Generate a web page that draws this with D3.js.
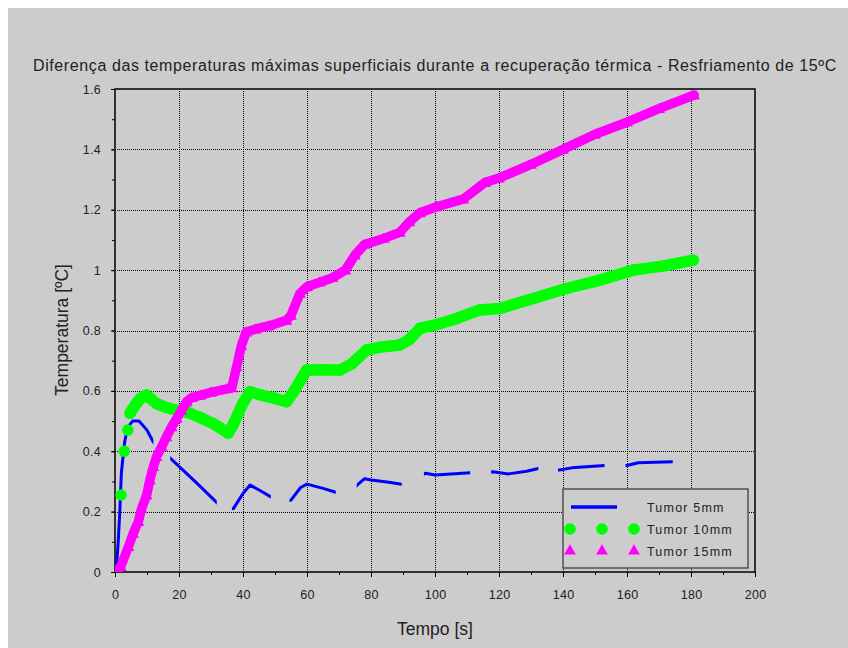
<!DOCTYPE html>
<html><head><meta charset="utf-8">
<script src="https://cdn.jsdelivr.net/npm/d3@7"></script>
<style>body{margin:0;background:#fff}text{font-family:"Liberation Sans",Arial,sans-serif}</style>
</head><body>
<svg id="c" width="848" height="648"></svg>
<script>
// ---- data ----
const title = "Diferença das temperaturas máximas superficiais durante a recuperação térmica - Resfriamento de 15ºC";
const xLabel = "Tempo [s]";
const yLabel = "Temperatura [ºC]";
const seriesNames = ["Tumor 5mm", "Tumor 10mm", "Tumor 15mm"];
const xTicks = [0,20,40,60,80,100,120,140,160,180,200];
const yTicks = [0,0.2,0.4,0.6,0.8,1,1.2,1.4,1.6];
const yTickLabels = ["0","0.2","0.4","0.6","0.8","1","1.2","1.4","1.6"];

const tBlue = [0,0.5,1,1.5,2,3,4,5.5,7.5,10,12,15,18,25,32,35,37,40,42.2,45.3,48.7,52,55,58,60,65,69,73,76,78,80,85,89.6,93,97,100,105,111,118,123,128.6,132.3,138.9,142.7,153,160,163.5,174.3,181];
const vBlue = [0,0.02,0.1,0.2,0.33,0.43,0.48,0.5,0.5,0.47,0.43,0.4,0.37,0.3,0.228,0.21,0.21,0.26,0.288,0.27,0.249,0.235,0.238,0.28,0.291,0.277,0.264,0.26,0.291,0.309,0.305,0.298,0.291,0.3,0.327,0.321,0.325,0.329,0.332,0.325,0.334,0.343,0.338,0.345,0.353,0.353,0.362,0.365,0.367];

const tGreen = [0,1.9,2.9,4,4.7,5.5,6.8,8,9.9,11,13,16,19.3,23.4,27,31,35.4,37,40,42.2,46,50,53.6,56,59.9,65,70.3,74,78.6,83,89,92,95.3,101.6,106.8,114,120.3,130.7,141,151.6,162,172,180.7];
const vGreen = [0,0.255,0.4,0.47,0.526,0.54,0.56,0.575,0.586,0.575,0.558,0.545,0.536,0.526,0.51,0.49,0.46,0.49,0.56,0.597,0.585,0.575,0.564,0.6,0.669,0.67,0.669,0.69,0.735,0.745,0.752,0.77,0.807,0.823,0.84,0.868,0.873,0.906,0.939,0.967,1.0,1.015,1.033];

const tMag = [0,1.8,4.2,5.7,7.3,8.3,9.9,10.9,12,13,14.6,16.1,17.7,19.3,20.8,22.4,24,26.6,30,35,36.5,38,39.5,41,44,48,53.6,55,57.8,60,64,68,72,75,78,84,89,92,95.3,100.5,108.8,115.6,120,130,140,150,160,170,181];
const vMag = [0,0.018,0.084,0.128,0.167,0.21,0.255,0.305,0.349,0.382,0.415,0.448,0.481,0.509,0.536,0.564,0.578,0.585,0.595,0.607,0.61,0.68,0.75,0.795,0.805,0.815,0.834,0.85,0.923,0.945,0.96,0.975,1.0,1.05,1.085,1.105,1.125,1.16,1.19,1.21,1.235,1.29,1.305,1.35,1.4,1.45,1.49,1.535,1.58];

// ---- style: visible dash intervals of the blue dashed line (time units) ----
const blueDashOn = [[0,12],[17.7,31.8],[37,48.7],[55,69],[76,89.6],[97,111],[118,132.3],[138.9,153],[160,174.3]];

// ---- layout ----
const W = 848, H = 648;
const L = 115, R = 755, T = 89, B = 572;
const blue = "#0000ff", green = "#00ff00", magenta = "#ff00ff", bg = "#cccccc";

const svg = d3.select("#c");
svg.append("rect").attr("x",8).attr("y",8).attr("width",W-8).attr("height",H-8).attr("fill",bg);

const x = d3.scaleLinear().domain([0,200]).range([L,R]);
const y = d3.scaleLinear().domain([0,1.6]).range([B,T]);

// grid
const grid = svg.append("g").attr("stroke","#000").attr("stroke-width",1).attr("stroke-dasharray","1,1").attr("shape-rendering","crispEdges");
grid.selectAll("line.gx").data(xTicks.slice(1,-1)).join("line")
  .attr("x1",d=>Math.round(x(d))+0.5).attr("x2",d=>Math.round(x(d))+0.5).attr("y1",T).attr("y2",B);
grid.selectAll("line.gy").data(yTicks.slice(1,-1)).join("line")
  .attr("y1",d=>Math.round(y(d))+0.5).attr("y2",d=>Math.round(y(d))+0.5).attr("x1",L).attr("x2",R);

// axes
const xMinor = d3.range(0,201,10);
const yMinor = d3.range(0,17).map(i=>i/10);
const fmtY = d => yTickLabels[yTicks.indexOf(d)];
const gx = svg.append("g").attr("transform",`translate(0,${B})`)
  .call(d3.axisBottom(x).tickValues(xTicks).tickSize(5).tickPadding(13).tickFormat(d3.format("d")));
const gxm = svg.append("g").attr("transform",`translate(0,${B})`)
  .call(d3.axisBottom(x).tickValues(xMinor).tickSize(3).tickFormat(""));
const gy = svg.append("g").attr("transform",`translate(${L},0)`)
  .call(d3.axisLeft(y).tickValues(yTicks).tickSize(4).tickPadding(10).tickFormat(fmtY));
const gym = svg.append("g").attr("transform",`translate(${L},0)`)
  .call(d3.axisLeft(y).tickValues(yMinor).tickSize(3).tickFormat(""));
[gx,gxm,gy,gym].forEach(g=>{
  g.select(".domain").remove();
  g.selectAll("line").attr("stroke","#000");
  g.selectAll("text").attr("font-size","12.5px").attr("letter-spacing","0.3px").attr("fill","#222").style("font-family","'Liberation Sans',Arial,sans-serif");
});
// box
svg.append("rect").attr("x",L).attr("y",T).attr("width",R-L).attr("height",B-T)
  .attr("fill","none").attr("stroke","#000").attr("stroke-width",1.5);

// clips
const defs = svg.append("defs");
defs.append("clipPath").attr("id","clip").append("rect").attr("x",L).attr("y",T).attr("width",R-L).attr("height",B-T);
defs.append("clipPath").attr("id","blueDash").selectAll("rect").data(blueDashOn).join("rect")
  .attr("x",d=>x(d[0])-1.5).attr("width",d=>x(d[1])-x(d[0])+1.5).attr("y",T).attr("height",B-T+2);
const plot = svg.append("g").attr("clip-path","url(#clip)");

const line = d3.line().x(d=>x(d[0])).y(d=>y(d[1]));

// blue dashed
const blueData = tBlue.map((t,i)=>[t,vBlue[i]]);
plot.append("g").attr("clip-path","url(#blueDash)")
  .append("path").datum(blueData).attr("d",line).attr("fill","none")
  .attr("stroke",blue).attr("stroke-width",3).attr("stroke-linejoin","round");

// green
const greenData = tGreen.map((t,i)=>[t,vGreen[i]]);
const greenBandFrom = 4;
plot.append("path").datum(greenData.slice(greenBandFrom)).attr("d",line).attr("fill","none")
  .attr("stroke",green).attr("stroke-width",11.5).attr("stroke-linejoin","round").attr("stroke-linecap","round");
plot.selectAll("circle.g").data(greenData).join("circle")
  .attr("cx",d=>x(d[0])).attr("cy",d=>y(d[1])).attr("r",5.8).attr("fill",green);

// magenta
const magData = tMag.map((t,i)=>[t,vMag[i]]);
plot.append("path").datum(magData).attr("d",line).attr("fill","none")
  .attr("stroke",magenta).attr("stroke-width",9.5).attr("stroke-linejoin","round").attr("stroke-linecap","round");
const tri = d3.symbol().type(d3.symbolTriangle).size(60);
plot.selectAll("path.m").data(magData).join("path")
  .attr("d",tri).attr("transform",d=>`translate(${x(d[0])},${y(d[1])+1})`).attr("fill",magenta);

// legend
const lg = svg.append("g");
lg.append("rect").attr("x",563).attr("y",489).attr("width",185).attr("height",79)
  .attr("fill",bg).attr("stroke","#333").attr("stroke-width",1.2);
const rows = [507,529,551];
lg.append("line").attr("x1",571).attr("x2",617).attr("y1",rows[0]).attr("y2",rows[0]).attr("stroke",blue).attr("stroke-width",3.5);
[570,602,634].forEach(cx=>{
  lg.append("circle").attr("cx",cx).attr("cy",rows[1]).attr("r",5.8).attr("fill",green);
  lg.append("path").attr("d",tri).attr("transform",`translate(${cx},${rows[2]})`).attr("fill",magenta);
});
seriesNames.forEach((s,i)=>{
  lg.append("text").attr("x",647).attr("y",rows[i]).attr("dy","0.36em").attr("font-size","12.5px")
    .attr("letter-spacing","1.2px").attr("fill","#222").text(s);
});

// titles
svg.append("text").attr("x",435).attr("y",71).attr("text-anchor","middle").attr("font-size","16px").attr("letter-spacing","0.6px").attr("fill","#222").text(title);
svg.append("text").attr("x",435).attr("y",635).attr("text-anchor","middle").attr("font-size","17.5px").attr("fill","#222").text(xLabel);
svg.append("text").attr("transform","translate(68,330) rotate(-90)").attr("text-anchor","middle").attr("font-size","17.5px").attr("fill","#222").text(yLabel);
</script>
</body></html>
